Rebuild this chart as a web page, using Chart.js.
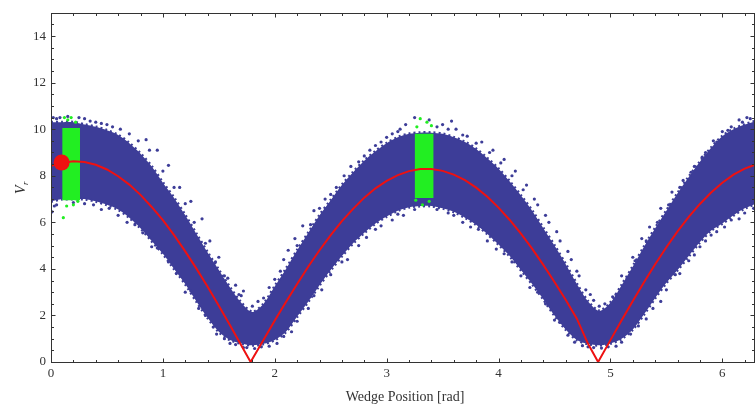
<!DOCTYPE html>
<html>
<head>
<meta charset="utf-8">
<script src="https://cdn.jsdelivr.net/npm/chart.js@4.4.1/dist/chart.umd.min.js"></script>
<style>
  html, body { margin: 0; padding: 0; background: #fff; overflow: hidden; }
  #wrap { width: 762px; height: 409px; }
</style>
</head>
<body>
<div id="wrap"><canvas id="grafico"></canvas></div>
<script>
// tick labels
const xTicks = [0, 1, 2, 3, 4, 5, 6];
const yTicks = [0, 2, 4, 6, 8, 10, 12, 14];

// blue point cloud: lower / upper edge
const cloudX    = [0, 0.1, 0.2, 0.3, 0.4, 0.5, 0.6, 0.7, 0.8, 0.9, 1.0, 1.1, 1.2, 1.3, 1.4, 1.5, 1.6, 1.7, 1.8, 1.9, 2.0, 2.1, 2.2, 2.3, 2.4, 2.5, 2.6, 2.7, 2.8, 2.9, 3.0, 3.1, 3.2, 3.3, 3.4, 3.5, 3.6, 3.7, 3.8, 3.9, 4.0, 4.1, 4.2, 4.3, 4.4, 4.5, 4.6, 4.7, 4.8, 4.9, 5.0, 5.1, 5.2, 5.3, 5.4, 5.5, 5.6, 5.7, 5.8, 5.9, 6.0, 6.1, 6.2, 6.3];
const cloudLow  = [6.9, 7.0, 7.0, 7.0, 6.9, 6.75, 6.55, 6.2, 5.75, 5.2, 4.65, 4.0, 3.35, 2.6, 1.9, 1.3, 0.95, 0.8, 0.72, 0.78, 0.95, 1.3, 1.95, 2.6, 3.3, 3.95, 4.55, 5.1, 5.55, 5.95, 6.25, 6.5, 6.65, 6.7, 6.7, 6.6, 6.45, 6.2, 5.9, 5.5, 5.05, 4.55, 3.95, 3.35, 2.7, 2.0, 1.4, 0.95, 0.78, 0.72, 0.8, 1.0, 1.4, 2.05, 2.75, 3.4, 3.95, 4.55, 5.15, 5.65, 5.95, 6.3, 6.6, 6.8];
const cloudHigh = [10.3, 10.3, 10.3, 10.2, 10.1, 9.95, 9.75, 9.4, 8.95, 8.4, 7.7, 7.05, 6.3, 5.5, 4.7, 3.95, 3.2, 2.55, 2.15, 2.5, 3.25, 4.0, 4.8, 5.55, 6.3, 6.95, 7.6, 8.15, 8.65, 9.05, 9.4, 9.65, 9.8, 9.85, 9.85, 9.8, 9.65, 9.45, 9.15, 8.75, 8.3, 7.75, 7.15, 6.5, 5.75, 5.0, 4.2, 3.35, 2.6, 2.2, 2.55, 3.3, 4.1, 4.95, 5.75, 6.5, 7.25, 7.95, 8.6, 9.2, 9.7, 10.0, 10.2, 10.35];

// stray blue points around the edges of the cloud
const strayX = [0.02, 0.05, 0.08, 0.3, 0.35, 0.45, 0.55, 0.7, 0.85, 0.95, 1.05, 1.15, 1.25, 1.35, 1.42, 1.5, 1.58, 1.65, 1.72,
  0.01, 0.03, 0.3, 0.45, 0.6, 0.75, 0.9, 1.05, 1.2, 1.32, 1.45, 1.55, 1.65,
  1.75, 1.82, 1.88, 1.7, 1.85, 1.95,
  2.05, 2.12, 2.18, 2.25, 2.35, 2.45, 2.55, 2.62, 2.75, 2.85, 2.95, 3.05, 3.12, 3.17,
  2.02, 2.15, 2.3, 2.42, 2.6, 2.75, 2.9, 3.05, 3.15,
  3.25, 3.38, 3.5, 3.58, 3.62, 3.72, 3.55, 3.45,
  3.85, 3.95, 4.05, 4.15, 4.25, 4.32, 4.42, 4.52, 4.62, 4.7, 4.78, 4.85,
  3.75, 3.9, 4.05, 4.2, 4.35, 4.5, 4.62, 4.75,
  4.85, 4.92, 4.98, 4.95, 5.05,
  5.1, 5.2, 5.28, 5.35, 5.45, 5.55, 5.65, 5.75, 5.85, 5.92, 6.0, 6.08, 6.15, 6.22, 6.25,
  5.1, 5.25, 5.38, 5.5, 5.62, 5.75, 5.85, 5.95, 6.08, 6.2,
  0.15, 0.25, 0.4, 0.5, 0.62, 0.78, 0.88, 1.0, 1.1, 1.2, 1.28, 1.38, 1.47, 1.55, 1.68, 1.8, 1.9, 2.0, 2.08, 2.2,
  2.32, 2.4, 2.5, 2.68, 2.8, 2.9, 3.0, 3.1, 3.45, 3.55, 3.68, 3.8, 3.92, 4.02, 4.12, 4.22, 4.35, 4.45, 4.55, 4.65,
  4.72, 4.82, 4.9, 5.02, 5.15, 5.22, 5.32, 5.42, 5.52, 5.62, 5.72, 5.82, 5.95, 6.05, 6.18,
  0.05, 0.2, 0.38, 0.52, 0.68, 0.82, 0.95, 1.12, 1.25, 1.38, 1.48, 1.6, 1.72, 1.95, 2.08, 2.2, 2.35, 2.5, 2.65, 2.82,
  2.95, 3.1, 3.25, 3.6, 3.68, 3.82, 3.98, 4.12, 4.28, 4.42, 4.55, 4.68, 4.8, 5.05, 5.18, 5.32, 5.45, 5.58, 5.7, 5.8,
  5.9, 6.02, 6.15, 6.28];
const strayY = [10.5, 10.45, 10.5, 10.45, 10.35, 10.25, 10.1, 9.8, 9.55, 9.1, 8.45, 7.5, 6.9, 6.15, 5.2, 4.5, 3.6, 3.3, 3.05,
  6.45, 6.7, 6.8, 6.55, 6.3, 5.9, 4.95, 4.3, 3.0, 2.3, 1.5, 1.0, 0.75,
  0.62, 0.58, 0.65, 2.85, 2.6, 3.2,
  3.9, 4.8, 5.3, 5.85, 6.5, 7.0, 7.5, 8.0, 8.6, 9.1, 9.45, 9.8, 10.0, 10.2,
  0.8, 1.3, 2.3, 3.1, 4.3, 5.0, 5.7, 6.1, 6.3,
  10.5, 10.4, 10.2, 10.35, 10.0, 9.7, 6.4, 6.55,
  9.45, 9.1, 8.7, 8.2, 7.6, 7.0, 6.3, 5.6, 4.75, 3.9, 3.1, 2.65,
  5.8, 5.2, 4.65, 3.7, 3.0, 1.8, 1.15, 0.7,
  0.62, 0.6, 0.65, 2.5, 2.9,
  3.7, 4.5, 5.3, 5.8, 6.6, 7.3, 7.8, 8.4, 9.0, 9.5, 9.9, 10.1, 10.4, 10.5, 10.45,
  0.85, 1.55, 2.3, 3.1, 3.8, 4.6, 5.2, 5.6, 6.1, 6.4,
  10.55, 10.5, 10.3, 10.2, 10.0, 9.5, 9.1, 8.2, 7.5, 6.8, 6.0, 5.1, 4.3, 3.7, 2.9, 2.4, 2.75, 3.55, 4.4, 5.0,
  5.9, 6.6, 7.2, 8.4, 8.85, 9.3, 9.65, 9.9, 10.1, 10.0, 9.75, 9.4, 9.0, 8.55, 8.0, 7.4, 6.75, 6.0, 5.2, 4.4,
  3.7, 2.9, 2.4, 2.8, 3.6, 4.35, 5.2, 6.0, 6.75, 7.5, 8.15, 8.8, 9.45, 9.95, 10.3,
  6.75, 6.85, 6.75, 6.6, 6.0, 5.55, 4.9, 3.8, 3.05, 2.0, 1.2, 0.8, 0.62, 0.68, 1.1, 1.75, 2.85, 3.75, 4.4, 5.35,
  5.85, 6.35, 6.55, 6.3, 6.0, 5.7, 4.85, 4.3, 3.2, 2.5, 1.7, 0.85, 0.65, 0.68, 1.2, 1.85, 2.6, 3.75, 4.35, 4.95,
  5.45, 5.8, 6.15, 6.6];

// green bands
const green1X = [0.10, 0.26];
const green1Low = [6.95, 6.95];
const green1High = [10.05, 10.05];
const green2X = [3.25, 3.42];
const green2Low = [7.05, 7.05];
const green2High = [9.8, 9.8];
const greenStrayX = [0.12, 0.15, 0.18, 0.22, 0.14, 0.11, 0.2, 0.24, 3.3, 3.36, 3.27, 3.4, 3.32, 3.38, 3.26];
const greenStrayY = [10.5, 10.4, 10.5, 10.3, 6.7, 6.2, 6.75, 6.9, 10.45, 10.3, 10.1, 10.15, 6.75, 6.9, 6.95];

// red curve
const redX = [0, 0.1, 0.2, 0.3, 0.4, 0.5, 0.6, 0.7, 0.8, 0.9, 1.0, 1.1, 1.2, 1.3, 1.4, 1.5, 1.6, 1.7, 1.784,
  1.9, 2.0, 2.1, 2.2, 2.3, 2.4, 2.5, 2.6, 2.7, 2.8, 2.9, 3.0, 3.1, 3.2, 3.3, 3.4, 3.5, 3.6, 3.7, 3.8, 3.9, 4.0,
  4.1, 4.2, 4.3, 4.4, 4.5, 4.6, 4.7, 4.8, 4.89, 5.0, 5.1, 5.2, 5.3, 5.4, 5.5, 5.6, 5.7, 5.8, 5.9, 6.0, 6.1, 6.2, 6.3];
const redY = [8.43, 8.56, 8.62, 8.59, 8.47, 8.27, 7.98, 7.62, 7.18, 6.66, 6.09, 5.45, 4.75, 4.01, 3.23, 2.42, 1.58, 0.72, 0,
  0.96, 1.78, 2.58, 3.35, 4.10, 4.80, 5.45, 6.05, 6.58, 7.06, 7.46, 7.78, 8.03, 8.20, 8.29, 8.29, 8.21, 8.05, 7.81, 7.49, 7.10, 6.63,
  6.10, 5.51, 4.87, 4.17, 3.44, 2.67, 1.86, 0.78, 0, 0.94, 1.79, 2.62, 3.43, 4.20, 4.93, 5.61, 6.23, 6.79, 7.28, 7.70, 8.05, 8.31, 8.49];

// big red marker
const markerX = [0.095];
const markerY = [8.57];

const azul = '#3d3d98';
const verde = '#22ee22';
const vermelho = '#ee1111';
const fonte = '"Liberation Serif", "Times New Roman", serif';

const pares = (xs, ys) => xs.map((x, i) => ({ x: x, y: ys[i] }));

const moldura = {
  id: 'moldura',
  afterDraw(chart) {
    const { ctx, chartArea: a, scales: { x, y } } = chart;
    ctx.save();
    ctx.strokeStyle = '#333';
    ctx.lineWidth = 1;
    const L = Math.round(a.left) + 0.5, R = Math.round(a.right) + 0.5;
    const T = Math.round(a.top) + 0.5, B = Math.round(a.bottom) + 0.5;
    ctx.strokeRect(L, T, R - L, B - T);
    ctx.beginPath();
    for (let k = 0; k * 0.2 <= x.max; k++) {
      const px = Math.round(x.getPixelForValue(k * 0.2)) + 0.5;
      const len = k % 5 === 0 ? 4 : 2.5;
      ctx.moveTo(px, B); ctx.lineTo(px, B - len);
      ctx.moveTo(px, T); ctx.lineTo(px, T + len);
    }
    for (let k = 0; k * 0.5 <= y.max; k++) {
      const py = Math.round(y.getPixelForValue(k * 0.5)) + 0.5;
      const len = k % 4 === 0 ? 4 : 2.5;
      ctx.moveTo(L, py); ctx.lineTo(L + len, py);
      ctx.moveTo(R, py); ctx.lineTo(R - len, py);
    }
    ctx.stroke();

    ctx.fillStyle = '#333';
    ctx.font = '14px ' + fonte;
    ctx.textAlign = 'center';
    ctx.textBaseline = 'middle';
    ctx.fillText('Wedge Position [rad]', 405, 397);

    ctx.translate(20, 188);
    ctx.rotate(-Math.PI / 2);
    ctx.font = 'italic 14px ' + fonte;
    ctx.textAlign = 'left';
    ctx.textBaseline = 'alphabetic';
    ctx.fillText('V', -6, 5);
    ctx.font = 'italic 9px ' + fonte;
    ctx.fillText('r', 3, 8);
    ctx.restore();
  }
};

new Chart(document.getElementById('grafico'), {
  type: 'scatter',
  data: {
    datasets: [
      { type: 'line', data: pares(cloudX, cloudLow), borderColor: azul, borderWidth: 3, borderDash: [2, 3], pointRadius: 0, tension: 0.3, fill: false, order: 10 },
      { type: 'line', data: pares(cloudX, cloudHigh), borderColor: azul, borderWidth: 3, borderDash: [2, 3], pointRadius: 0, tension: 0.3, fill: '-1', backgroundColor: azul, order: 10 },
      { data: pares(strayX, strayY), pointRadius: 1.6, backgroundColor: azul, borderWidth: 0, order: 9 },
      { type: 'line', data: pares(green1X, green1Low), borderWidth: 0, pointRadius: 0, fill: false, order: 8 },
      { type: 'line', data: pares(green1X, green1High), borderWidth: 0, pointRadius: 0, fill: '-1', backgroundColor: verde, order: 8 },
      { type: 'line', data: pares(green2X, green2Low), borderWidth: 0, pointRadius: 0, fill: false, order: 8 },
      { type: 'line', data: pares(green2X, green2High), borderWidth: 0, pointRadius: 0, fill: '-1', backgroundColor: verde, order: 8 },
      { data: pares(greenStrayX, greenStrayY), pointRadius: 1.6, backgroundColor: verde, borderWidth: 0, order: 7 },
      { type: 'line', data: pares(redX, redY), borderColor: vermelho, borderWidth: 2, pointRadius: 0, tension: 0, fill: false, order: 2 },
      { data: pares(markerX, markerY), pointRadius: 8, backgroundColor: vermelho, borderWidth: 0, order: 1 }
    ]
  },
  options: {
    responsive: true,
    maintainAspectRatio: false,
    animation: false,
    layout: { padding: { top: 9, right: 2, left: 0, bottom: 0 } },
    plugins: { legend: { display: false }, tooltip: { enabled: false } },
    scales: {
      x: {
        type: 'linear', min: 0, max: 2 * Math.PI,
        grid: { display: false, drawTicks: false },
        border: { display: false },
        ticks: { font: { family: fonte, size: 13 }, color: '#333', padding: 4, maxRotation: 0 },
        afterBuildTicks: s => { s.ticks = xTicks.map(v => ({ value: v })); },
        afterFit: s => { s.height = 47; }
      },
      y: {
        min: 0, max: 15,
        grid: { display: false, drawTicks: false },
        border: { display: false },
        ticks: { font: { family: fonte, size: 13 }, color: '#333', padding: 5 },
        afterBuildTicks: s => { s.ticks = yTicks.map(v => ({ value: v })); },
        afterFit: s => { s.width = 51; }
      }
    }
  },
  plugins: [moldura]
});
</script>
</body>
</html>
